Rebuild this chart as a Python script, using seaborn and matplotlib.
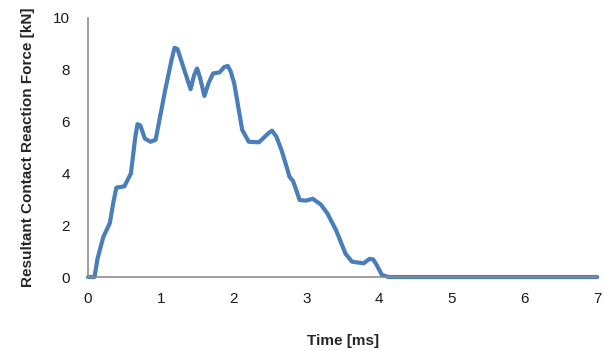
import pandas as pd
import seaborn as sns
import matplotlib.pyplot as plt

# Force curve (time in ms, force in kN)
time_ms = [0.0, 0.09, 0.13, 0.21, 0.30, 0.35, 0.39, 0.50, 0.59, 0.65, 0.68, 0.72, 0.78, 0.86,
           0.93, 1.06, 1.15, 1.19, 1.23, 1.30, 1.41, 1.46, 1.50, 1.54, 1.60, 1.66, 1.72,
           1.81, 1.87, 1.92, 1.96, 2.01, 2.12, 2.21, 2.35, 2.48, 2.53, 2.59, 2.66, 2.73,
           2.77, 2.82, 2.91, 3.00, 3.09, 3.20, 3.29, 3.41, 3.54, 3.63, 3.79, 3.87, 3.92,
           3.97, 4.04, 4.13, 5.0, 6.0, 7.0]
force_kn = [0.0, 0.0, 0.7, 1.54, 2.08, 2.9, 3.45, 3.5, 4.0, 5.4, 5.9, 5.85, 5.35, 5.22,
            5.3, 7.2, 8.4, 8.85, 8.8, 8.2, 7.25, 7.8, 8.05, 7.7, 6.99, 7.5, 7.86,
            7.9, 8.1, 8.15, 7.95, 7.48, 5.68, 5.22, 5.2, 5.55, 5.65, 5.42, 4.9, 4.26,
            3.87, 3.7, 2.97, 2.95, 3.02, 2.8, 2.46, 1.81, 0.9, 0.59, 0.53, 0.7, 0.68,
            0.46, 0.08, 0.0, 0.0, 0.0, 0.0]

x_ticks = [0, 1, 2, 3, 4, 5, 6, 7]
y_ticks = [0, 2, 4, 6, 8, 10]

df = pd.DataFrame({'time': time_ms, 'force': force_kn})

sns.set_style('white')
plt.rcParams['font.family'] = ['Liberation Sans', 'DejaVu Sans']

fig = plt.figure(figsize=(6.04, 3.51), dpi=100)
ax = fig.add_axes([0.1457, 0.2108, 0.843, 0.738])

sns.lineplot(data=df, x='time', y='force', ax=ax, color='#4a7ebb', linewidth=3.0,
             solid_joinstyle='round', solid_capstyle='round', clip_on=False)

ax.set_xlim(0, 7)
ax.set_ylim(0, 10)
ax.set_xticks(x_ticks)
ax.set_yticks(y_ticks)
ax.tick_params(axis='both', length=0, labelsize=11, labelcolor='#1a1a1a')
ax.tick_params(axis='y', pad=13)
ax.tick_params(axis='x', pad=11)

for side in ['top', 'right']:
    ax.spines[side].set_visible(False)
for side in ['left', 'bottom']:
    ax.spines[side].set_color('#8c8c8c')
    ax.spines[side].set_linewidth(1.2)

ax.set_xlabel('Time [ms]', fontsize=11, fontweight='bold', labelpad=20)
ax.set_ylabel('Resultant Contact Reaction Force [kN]', fontsize=11, fontweight='bold',
              labelpad=13, family=['Liberation Sans Narrow', 'Liberation Sans'])

fig.savefig('out.png', dpi=100)
